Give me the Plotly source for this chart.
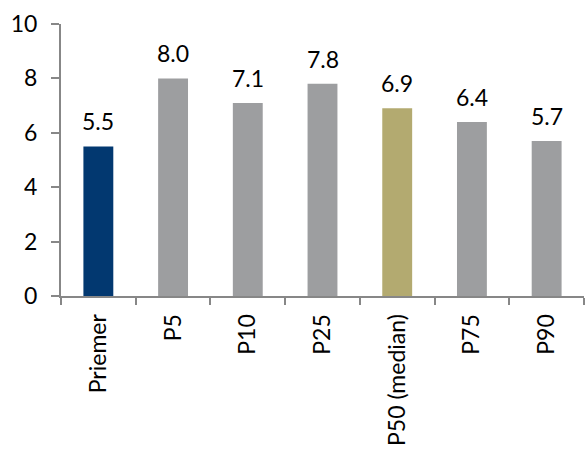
import plotly.graph_objects as go

categories = ["Priemer", "P5", "P10", "P25", "P50 (median)", "P75", "P90"]
values = [5.5, 8.0, 7.1, 7.8, 6.9, 6.4, 5.7]
bar_colors = ["#023870", "#9d9ea0", "#9d9ea0", "#9d9ea0", "#b3aa70", "#9d9ea0", "#9d9ea0"]
y_ticks = [0, 2, 4, 6, 8, 10]

font_family = "Lato, 'Open Sans', sans-serif"
font_size = 23
axis_color = "#878787"

fig = go.Figure()
fig.add_trace(go.Bar(
    x=categories,
    y=values,
    marker=dict(color=bar_colors, line=dict(width=0)),
    width=0.4,
    hoverinfo="skip",
))

# value labels above each bar
for cat, val in zip(categories, values):
    fig.add_annotation(
        x=cat, y=val, text=f"{val:.1f}", showarrow=False,
        yanchor="bottom", yshift=9,
        font=dict(family=font_family, size=font_size, color="#000000"),
    )

fig.update_layout(
    width=586, height=455,
    margin=dict(l=61, r=2, t=24, b=159),
    paper_bgcolor="white", plot_bgcolor="white",
    showlegend=False,
    font=dict(family=font_family, size=font_size, color="#000000"),
    bargap=0.6,
)
fig.update_xaxes(
    type="category",
    showline=True, linecolor=axis_color, linewidth=2,
    ticks="outside", tickson="boundaries", ticklen=7, tickwidth=2, tickcolor=axis_color,
    tickangle=-90,
    tickfont=dict(family=font_family, size=font_size, color="#000000"),
    ticklabelstandoff=7,
    showgrid=False, zeroline=False,
    range=[-0.5, 6.5],
)
fig.update_yaxes(
    range=[0, 10], tickvals=y_ticks,
    showline=True, linecolor=axis_color, linewidth=2,
    ticks="outside", ticklen=8, tickwidth=2, tickcolor=axis_color,
    tickfont=dict(family=font_family, size=font_size, color="#000000"),
    ticklabelstandoff=9,
    showgrid=False, zeroline=False,
)

fig.write_html("out.html")
